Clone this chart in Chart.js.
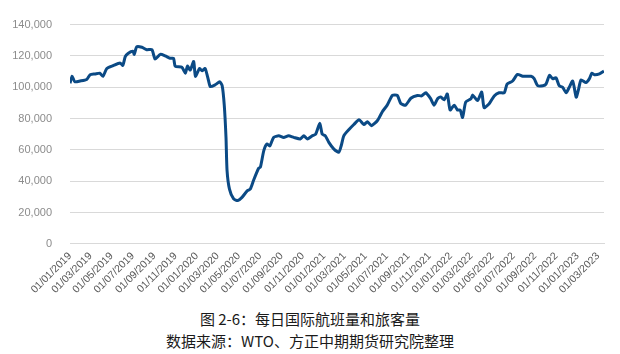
<!DOCTYPE html>
<html>
<head>
<meta charset="utf-8">
<script src="https://cdn.jsdelivr.net/npm/chart.js@4"></script>
<style>
  body { margin: 0; background: #fff; width: 620px; height: 354px; overflow: hidden; }
  #wrap { position: absolute; left: 0; top: 0; width: 620px; height: 302px; }
  .cap { position: absolute; left: 0; width: 620px; text-align: center;
         font-family: "Noto Sans CJK SC", sans-serif; font-size: 15px; color: #1a1a1a; }
</style>
</head>
<body>
<div id="wrap"><canvas id="grafico"></canvas></div>
<div class="cap" style="top:308px">图 2-6：每日国际航班量和旅客量</div>
<div class="cap" style="top:330px">数据来源：WTO、方正中期期货研究院整理</div>
<script>
// datas (aprox.)
const datas = [
  "2019-01-01","2019-01-07","2019-01-15","2019-01-30","2019-02-18","2019-02-28","2019-03-14","2019-03-28",
  "2019-04-06","2019-04-17","2019-05-05","2019-05-25","2019-06-02","2019-06-09","2019-06-17","2019-07-01",
  "2019-07-05","2019-07-12","2019-07-27","2019-08-10","2019-08-25","2019-09-03","2019-09-18","2019-10-02",
  "2019-10-16","2019-10-26","2019-10-31","2019-11-19","2019-11-29","2019-12-05","2019-12-13","2019-12-23",
  "2019-12-28","2020-01-09","2020-01-16","2020-01-25","2020-02-04","2020-02-09","2020-02-23","2020-03-07",
  "2020-03-14","2020-03-20","2020-03-25","2020-03-28","2020-04-04","2020-04-16","2020-04-28","2020-05-10",
  "2020-05-25","2020-06-03","2020-06-13","2020-06-27","2020-07-02","2020-07-12","2020-07-21","2020-07-29",
  "2020-08-09","2020-08-24","2020-09-07","2020-09-21","2020-10-06","2020-10-25","2020-11-04","2020-11-14",
  "2020-11-28","2020-12-08","2020-12-20","2020-12-27","2021-01-05","2021-01-15","2021-01-29","2021-02-13",
  "2021-02-20","2021-02-27","2021-03-14","2021-03-28","2021-04-12","2021-04-26","2021-05-06","2021-05-18",
  "2021-06-04","2021-06-18","2021-07-02","2021-07-17","2021-07-31","2021-08-10","2021-08-24","2021-09-08",
  "2021-09-27","2021-10-09","2021-10-21","2021-11-04","2021-11-14","2021-11-24","2021-12-03","2021-12-13",
  "2021-12-22","2021-12-30","2022-01-11","2022-01-20","2022-01-28","2022-02-04","2022-02-13","2022-02-28",
  "2022-03-05","2022-03-19","2022-03-31","2022-04-07","2022-04-22","2022-05-06","2022-05-20","2022-06-04",
  "2022-06-12","2022-06-28","2022-07-12","2022-07-27","2022-08-20","2022-08-29","2022-09-08","2022-09-23",
  "2022-10-02","2022-10-12","2022-10-21","2022-10-31","2022-11-09","2022-11-19","2022-11-29","2022-12-08",
  "2022-12-18","2022-12-28","2023-01-03","2023-01-11","2023-01-25","2023-02-04","2023-02-11","2023-02-18",
  "2023-03-05","2023-03-18"
];

// voos internacionais diários
const voos = [
  102500,107000,103500,104000,105000,108000,108500,109000,
  107000,112000,113800,115500,114000,119500,121600,123000,
  121000,125800,125500,124000,124000,118000,121000,120000,
  118500,118500,113400,112800,109000,113500,111000,116500,
  107000,112000,110500,112000,104000,100400,101600,103500,
  101000,88600,68000,47000,35000,28700,27700,29700,
  33900,35000,41000,48300,49000,59700,63800,62500,
  68000,69000,68000,69000,68000,67000,69000,67000,
  69000,70000,77000,70000,69000,64800,60700,58600,
  63000,69000,73000,76200,79300,76200,78000,75500,
  78800,84400,88600,94800,94800,89600,88600,93000,
  94800,94500,96500,92700,88600,92700,93800,92000,
  95700,85500,88600,85500,85500,80700,90600,92700,
  95000,91500,96900,87000,89600,94500,96500,96500,
  102000,104000,108200,107000,107000,105500,101000,101000,
  102000,107600,105500,106000,101000,100000,96500,100000,
  104000,93700,98000,104700,103000,105500,109000,108000,
  108500,110300
];

const rotulosY = [0, 20000, 40000, 60000, 80000, 100000, 120000, 140000];

// ticks do eixo x: dia 1 de cada mês ímpar
const ticksX = [
  "2019-01-01","2019-03-01","2019-05-01","2019-07-01","2019-09-01","2019-11-01",
  "2020-01-01","2020-03-01","2020-05-01","2020-07-01","2020-09-01","2020-11-01",
  "2021-01-01","2021-03-01","2021-05-01","2021-07-01","2021-09-01","2021-11-01",
  "2022-01-01","2022-03-01","2022-05-01","2022-07-01","2022-09-01","2022-11-01",
  "2023-01-01","2023-03-01"
];

const inicio = Date.UTC(2019, 0, 1);
function dia(s) {
  const p = s.split("-").map(Number);
  return (Date.UTC(p[0], p[1] - 1, p[2]) - inicio) / 86400000;
}
function formatar(d) {
  const dt = new Date(inicio + d * 86400000);
  const dd = String(dt.getUTCDate()).padStart(2, "0");
  const mm = String(dt.getUTCMonth() + 1).padStart(2, "0");
  return dd + "/" + mm + "/" + dt.getUTCFullYear();
}

const ctx = document.getElementById("grafico").getContext("2d");

new Chart(ctx, {
  type: "line",
  data: {
    datasets: [{
      data: datas.map((d, i) => ({ x: dia(d), y: voos[i] })),
      borderColor: "#0b4a85",
      borderWidth: 3,
      pointRadius: 0,
      fill: false,
      tension: 0.2
    }]
  },
  options: {
    responsive: true,
    maintainAspectRatio: false,
    animation: false,
    layout: { padding: { left: 0, right: 16, top: 6, bottom: 0 } },
    plugins: { legend: { display: false }, tooltip: { enabled: false } },
    scales: {
      x: {
        type: "linear",
        min: 0,
        max: dia(datas[datas.length - 1]),
        afterBuildTicks: (axis) => { axis.ticks = ticksX.map(t => ({ value: dia(t) })); },
        grid: { display: false, drawTicks: false },
        border: { display: true, color: "#d9d9d9", width: 1 },
        ticks: {
          autoSkip: false,
          minRotation: 45,
          maxRotation: 45,
          padding: 6,
          color: "#595959",
          font: { family: "Liberation Sans", size: 10.5 },
          callback: (v) => formatar(v)
        }
      },
      y: {
        min: 0,
        max: 140000,
        afterBuildTicks: (axis) => { axis.ticks = rotulosY.map(v => ({ value: v })); },
        afterFit: (axis) => { axis.width = 70; },
        grid: { color: "#d9d9d9", lineWidth: 1, drawTicks: false },
        border: { display: false },
        ticks: {
          padding: 18,
          color: "#8c8c8c",
          font: { family: "Liberation Sans", size: 11 },
          callback: (v) => v.toLocaleString("en-US")
        }
      }
    }
  }
});
</script>
</body>
</html>
